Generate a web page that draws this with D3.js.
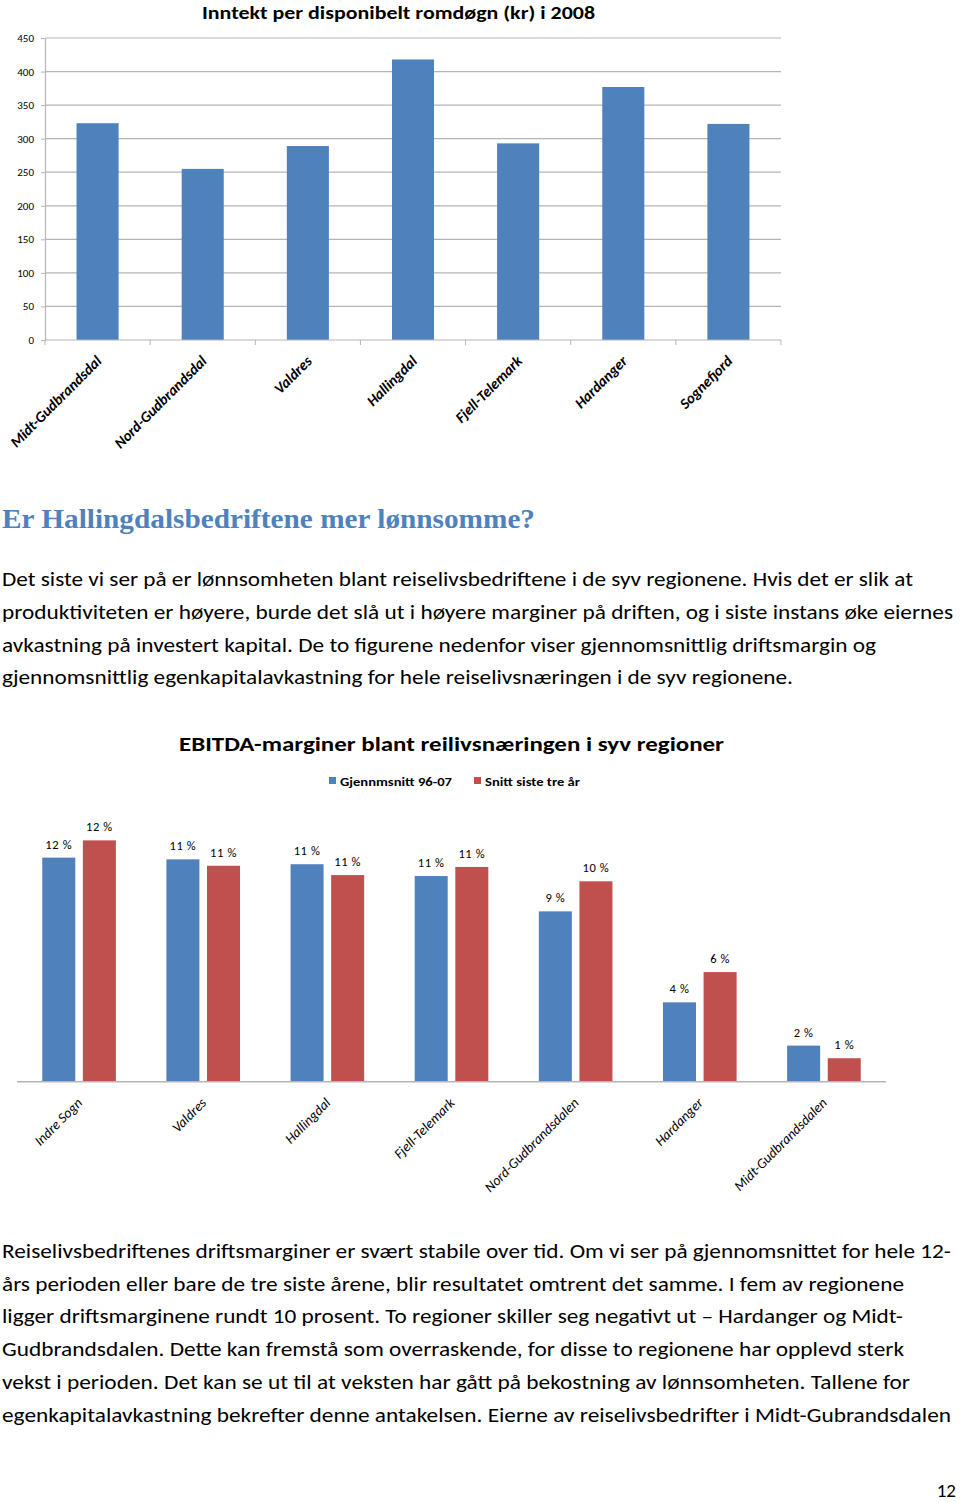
<!DOCTYPE html>
<html>
<head>
<meta charset="utf-8">
<script src="https://cdn.jsdelivr.net/npm/d3@7"></script>
<style>
  html, body { margin: 0; padding: 0; background: #fff; }
  svg { display: block; }
  text { fill: #000; }
</style>
</head>
<body>
<script>
// ---------- Data ----------
const title1 = "Inntekt per disponibelt romdøgn (kr) i 2008";
const regions1 = ["Midt-Gudbrandsdal", "Nord-Gudbrandsdal", "Valdres", "Hallingdal", "Fjell-Telemark", "Hardanger", "Sognefjord"];
const revenue = [323, 255, 289, 418, 293, 377, 322];
const yTicks1 = [0, 50, 100, 150, 200, 250, 300, 350, 400, 450];

const title2 = "EBITDA-marginer blant reilivsnæringen i syv regioner";
const series2 = ["Gjennmsnitt 96-07", "Snitt siste tre år"];
const regions2 = ["Indre Sogn", "Valdres", "Hallingdal", "Fjell-Telemark", "Nord-Gudbrandsdalen", "Hardanger", "Midt-Gudbrandsdalen"];
const avg9607 = [11.55, 11.46, 11.21, 10.6, 8.78, 4.09, 1.86];
const last3 = [12.44, 11.13, 10.65, 11.07, 10.33, 5.65, 1.21];

const heading = "Er Hallingdalsbedriftene mer lønnsomme?";
const para1 = [
  "Det siste vi ser på er lønnsomheten blant reiselivsbedriftene i de syv regionene. Hvis det er slik at",
  "produktiviteten er høyere, burde det slå ut i høyere marginer på driften, og i siste instans øke eiernes",
  "avkastning på investert kapital. De to figurene nedenfor viser gjennomsnittlig driftsmargin og",
  "gjennomsnittlig egenkapitalavkastning for hele reiselivsnæringen i de syv regionene."
];
const para1Widths = [911, 951, 874, 791];
const para2 = [
  "Reiselivsbedriftenes driftsmarginer er svært stabile over tid. Om vi ser på gjennomsnittet for hele 12-",
  "års perioden eller bare de tre siste årene, blir resultatet omtrent det samme. I fem av regionene",
  "ligger driftsmarginene rundt 10 prosent. To regioner skiller seg negativt ut – Hardanger og Midt-",
  "Gudbrandsdalen. Dette kan fremstå som overraskende, for disse to regionene har opplevd sterk",
  "vekst i perioden. Det kan se ut til at veksten har gått på bekostning av lønnsomheten. Tallene for",
  "egenkapitalavkastning bekrefter denne antakelsen. Eierne av reiselivsbedrifter i Midt-Gubrandsdalen"
];
const para2Widths = [949, 902, 901, 902, 908, 949];
const pageNumber = "12";

const BLUE = "#4F81BD", RED = "#C0504D", GRID = "#b5b5b5";
const SANS = "Carlito, Lato, 'Open Sans', sans-serif";
const SERIF = "'Liberation Serif', 'DejaVu Serif', serif";

const svg = d3.select("body").append("svg").attr("width", 960).attr("height", 1502)
  .style("font-family", SANS);
svg.append("rect").attr("width", 960).attr("height", 1502).attr("fill", "#fff");

// ---------- Chart 1 ----------
const c1 = { left: 45, right: 781, top: 38, bottom: 340 };
const x1 = d3.scaleBand().domain(regions1).range([c1.left, c1.right]).paddingInner(0.6).paddingOuter(0.3);
const y1 = d3.scaleLinear().domain([0, 450]).range([c1.bottom, c1.top]);

const g1 = svg.append("g");
g1.append("text").attr("x", 202).attr("y", 19)
  .attr("font-size", 19).attr("font-weight", "bold")
  .attr("textLength", 393).attr("lengthAdjust", "spacingAndGlyphs").text(title1);

// gridlines
g1.selectAll(".grid").data(yTicks1.filter(d => d > 0)).join("line")
  .attr("x1", c1.left).attr("x2", c1.right)
  .attr("y1", d => y1(d)).attr("y2", d => y1(d))
  .attr("stroke", GRID).attr("stroke-width", 1.2);

// y axis
const yAxis1 = d3.axisLeft(y1).tickValues(yTicks1).tickSize(4).tickPadding(7);
const ya = g1.append("g").attr("transform", `translate(${c1.left},0)`).call(yAxis1);
ya.select(".domain").attr("stroke", GRID).attr("stroke-width", 1.2);
ya.selectAll(".tick line").attr("stroke", GRID);
ya.selectAll("text").attr("font-size", 11).attr("font-family", SANS).attr("fill", "#000");

// bars
g1.selectAll(".bar1").data(regions1).join("rect")
  .attr("x", d => x1(d)).attr("width", x1.bandwidth())
  .attr("y", (d, i) => y1(revenue[i])).attr("height", (d, i) => y1(0) - y1(revenue[i]))
  .attr("fill", BLUE);

// x axis with ticks at category boundaries
const bounds1 = d3.range(regions1.length + 1).map(i => c1.left + i * (c1.right - c1.left) / regions1.length);
g1.append("line").attr("x1", c1.left).attr("x2", c1.right).attr("y1", y1(0)).attr("y2", y1(0))
  .attr("stroke", GRID).attr("stroke-width", 1.2);
g1.selectAll(".xt1").data(bounds1).join("line")
  .attr("x1", d => d).attr("x2", d => d).attr("y1", y1(0)).attr("y2", y1(0) + 5)
  .attr("stroke", GRID);

g1.selectAll(".xl1").data(regions1).join("text")
  .attr("transform", d => `translate(${x1(d) + x1.bandwidth() / 2 + 5},${y1(0) + 22}) rotate(-45)`)
  .attr("text-anchor", "end").attr("font-size", 15).attr("font-weight", "bold").attr("font-style", "italic")
  .text(d => d);

// ---------- Heading + paragraph 1 ----------
svg.append("text").attr("x", 2).attr("y", 528)
  .style("font-family", SERIF).attr("font-weight", "bold")
  .attr("font-size", 27).style("fill", BLUE)
  .attr("textLength", 533).attr("lengthAdjust", "spacingAndGlyphs").text(heading);

svg.selectAll(".p1").data(para1).join("text")
  .attr("x", 2).attr("y", (d, i) => 586 + i * 32.8)
  .attr("font-size", 20).attr("textLength", (d, i) => para1Widths[i]).attr("lengthAdjust", "spacingAndGlyphs")
  .text(d => d);

// ---------- Chart 2 ----------
const c2 = { left: 17, right: 886, axisY: 1081.7 };
const x0 = d3.scaleBand().domain(regions2).range([c2.left, c2.right]).paddingInner(0.407).paddingOuter(0.2035);
const xs = d3.scaleBand().domain(series2).range([0, x0.bandwidth()]).paddingInner(0.187);
const y2 = d3.scaleLinear().domain([0, 14]).range([c2.axisY, c2.axisY - 14 * 19.4]);
const fmt = v => d3.format(".0f")(v) + " %";

const g2 = svg.append("g");
g2.append("text").attr("x", 179).attr("y", 751)
  .attr("font-size", 21).attr("font-weight", "bold")
  .attr("textLength", 545).attr("lengthAdjust", "spacingAndGlyphs").text(title2);

// legend
const legendX = [329, 474];
const legendW = [112, 95];
series2.forEach((s, i) => {
  g2.append("rect").attr("x", legendX[i]).attr("y", 777).attr("width", 7).attr("height", 7)
    .attr("fill", i === 0 ? BLUE : RED);
  g2.append("text").attr("x", legendX[i] + 11).attr("y", 785.5).attr("font-size", 12.5)
    .attr("font-weight", "bold").attr("textLength", legendW[i]).attr("lengthAdjust", "spacingAndGlyphs").text(s);
});

const rows2 = regions2.map((r, i) => ({ region: r, vals: [avg9607[i], last3[i]] }));
const grp = g2.selectAll(".grp").data(rows2).join("g").attr("transform", d => `translate(${x0(d.region)},0)`);
grp.selectAll("rect").data(d => d.vals.map((v, j) => ({ s: series2[j], v, j }))).join("rect")
  .attr("x", d => xs(d.s)).attr("width", xs.bandwidth())
  .attr("y", d => y2(d.v)).attr("height", d => y2(0) - y2(d.v))
  .attr("fill", d => d.j === 0 ? BLUE : RED);
grp.selectAll("text").data(d => d.vals.map((v, j) => ({ s: series2[j], v, j }))).join("text")
  .attr("x", d => xs(d.s) + xs.bandwidth() / 2).attr("y", d => y2(d.v) - 9)
  .attr("text-anchor", "middle").attr("font-size", 12.5).attr("letter-spacing", 0.6)
  .text(d => fmt(d.v));

g2.append("line").attr("x1", c2.left).attr("x2", c2.right).attr("y1", c2.axisY).attr("y2", c2.axisY)
  .attr("stroke", GRID).attr("stroke-width", 1.5);

g2.selectAll(".xl2").data(regions2).join("text")
  .attr("transform", d => `translate(${x0(d) + x0.bandwidth() / 2 + 4},${c2.axisY + 22}) rotate(-45)`)
  .attr("text-anchor", "end").attr("font-size", 14).attr("font-style", "italic")
  .text(d => d);

// ---------- Paragraph 2 + page number ----------
svg.selectAll(".p2").data(para2).join("text")
  .attr("x", 2).attr("y", (d, i) => 1258 + i * 32.7)
  .attr("font-size", 20).attr("textLength", (d, i) => para2Widths[i]).attr("lengthAdjust", "spacingAndGlyphs")
  .text(d => d);

svg.append("text").attr("x", 956).attr("y", 1497).attr("text-anchor", "end").attr("font-size", 19).text(pageNumber);
</script>
</body>
</html>
